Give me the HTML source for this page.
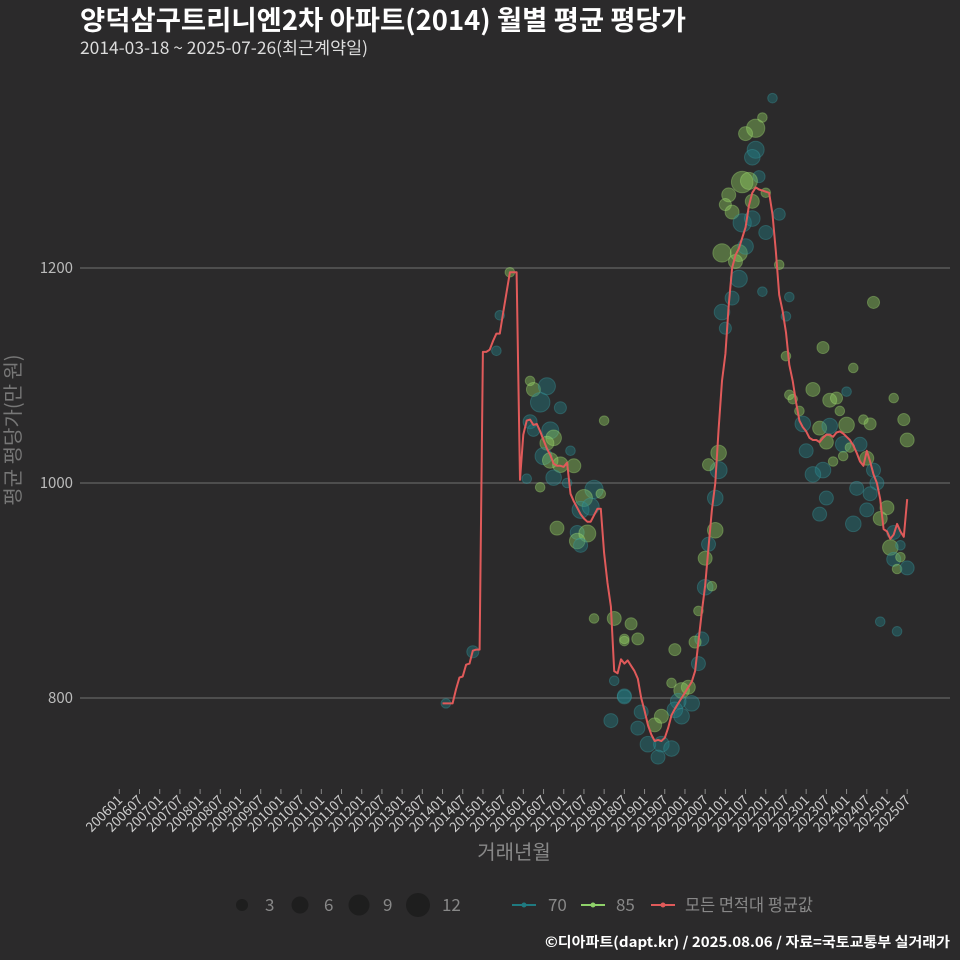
<!DOCTYPE html>
<html><head><meta charset="utf-8">
<style>
html,body{margin:0;padding:0;background:#2b2a2b;}
svg{display:block;font-family:"Noto Sans CJK KR","Liberation Sans",sans-serif;}
</style></head>
<body>
<svg id="chart" width="960" height="960" viewBox="0 0 960 960">
<rect x="0" y="0" width="960" height="960" fill="#2b2a2b"/>
<text x="80" y="30" font-size="27" font-weight="bold" fill="#ffffff" textLength="606" lengthAdjust="spacingAndGlyphs">양덕삼구트리니엔2차 아파트(2014) 월별 평균 평당가</text>
<text x="80" y="54" font-size="17" fill="#dddddd" textLength="288" lengthAdjust="spacingAndGlyphs">2014-03-18 ~ 2025-07-26(최근계약일)</text>
<g id="grid"></g>
<g id="yaxis"></g>
<g id="xaxis"></g>
<g id="points"></g>
<g id="line"></g>
<text transform="translate(20,430) rotate(-90)" text-anchor="middle" font-size="20" fill="#777777">평균 평당가(만 원)</text>
<text x="514" y="859" text-anchor="middle" font-size="20" fill="#888888">거래년월</text>
<g>
<circle cx="242" cy="905" r="6" fill="#1e1e1e"/>
<text x="265" y="911" font-size="17" fill="#888">3</text>
<circle cx="300" cy="905" r="8.5" fill="#1e1e1e"/>
<text x="324" y="911" font-size="17" fill="#888">6</text>
<circle cx="359" cy="905" r="10.5" fill="#1e1e1e"/>
<text x="383" y="911" font-size="17" fill="#888">9</text>
<circle cx="418" cy="905" r="12" fill="#1e1e1e"/>
<text x="442" y="911" font-size="17" fill="#888">12</text>
</g>
<g>
<line x1="512" y1="905" x2="536" y2="905" stroke="#1f7a80" stroke-width="2"/>
<circle cx="524" cy="905" r="2.5" fill="#1f7a80"/>
<text x="548" y="911" font-size="17" fill="#888">70</text>
<line x1="581" y1="905" x2="605" y2="905" stroke="#8fd16a" stroke-width="2"/>
<circle cx="593" cy="905" r="2.5" fill="#8fd16a"/>
<text x="616" y="911" font-size="17" fill="#888">85</text>
<line x1="651" y1="905" x2="675" y2="905" stroke="#e05a5a" stroke-width="2"/>
<circle cx="663" cy="905" r="2.5" fill="#e05a5a"/>
<text x="685" y="911" font-size="17" fill="#888" textLength="128" lengthAdjust="spacingAndGlyphs">모든 면적대 평균값</text>
</g>
<text x="950" y="947" text-anchor="end" font-size="14" font-weight="bold" fill="#ffffff" textLength="405" lengthAdjust="spacingAndGlyphs">©디아파트(dapt.kr) / 2025.08.06 / 자료=국토교통부 실거래가</text>
</svg>
<script>
const yTicks = [800, 1000, 1200];
const lineStart = "201401";
const lineValues = [795,795,795,795,808,819,820,831,832,844,845,845,
1122,1122,1124,1132,1139,1139,1158,1177,1196,1196,1196,1003,
1045,1058,1059,1054,1055,1048,1040,1032,1026,1018,1016,1016,
1015,1019,990,983,977,971,967,964,964,970,976,976,
935,907,885,825,823,836,832,835,830,825,818,800,
788,775,766,760,761,760,763,772,784,790,795,800,
805,810,815,825,852,880,905,940,975,1000,1050,1095,
1120,1165,1200,1212,1218,1228,1238,1258,1270,1275,1273,1272,
1271,1270,1250,1215,1175,1160,1140,1110,1095,1075,1058,1052,
1048,1042,1040,1040,1038,1042,1045,1045,1043,1047,1048,1046,
1043,1040,1035,1028,1020,1016,1030,1020,1008,1000,985,957,
955,948,952,962,955,950,985];
const ptMonth = ["201402","201410","201506","201505","201509","201603","201604","201608","201606","201612","201801","201603","201604","201609","201610","201608","201607","201609","201612","201704","201703","201602","201610","201702","201606","201710","201707","201712","201706","201709","201611","201705","201708","201705","201706","201710","201804","201807","201804","201807","201803",
"202203","202112","202110","202107","202110","202109","202111","202106","202108","202201","202102","202101","202103","202109","202106","202109","202205","202201","202012","202105","202107","202104","202105","202205","202112","202208","202103","202012","202101","202207",
"202409","202306","202403","202207","202303","202208","202209","202308","202310","202401","202503","202311","202211","202406","202408","202506","202507","202212","202305","202308","202401","202307","202312","202405","202301","202309","202312","202402","202407","202306","202303","202409","202410","202404","202408","202307","202407","202305","202501","202411","202403","202503","202502","202505","202503","202505","202504","202507","202411","202504",
"202011","202011","202008","202010","202010","202008","202007","202007","202009","202005","202006","202004","202005","201910","201809","201811","201807","201909","201912","202002","202003","201911","201910","201912","201906","201904","201812","201807","201811","201902","201906","201909","201905"];
const ptValue = [795,843,1156,1123,1196,1095,1087,1090,1075,1070,1058,1057,1049,1049,1042,1037,1025,1021,1017,1016,1030,1004,1005,1000,996,994,986,990,975,978,958,954,953,946,942,874,874,855,816,802,779,
1358,1340,1330,1325,1310,1303,1285,1280,1281,1270,1268,1259,1252,1262,1242,1246,1250,1233,1214,1214,1220,1206,1190,1203,1178,1173,1172,1159,1144,1155,
1168,1126,1107,1118,1087,1082,1078,1077,1079,1085,1079,1067,1067,1059,1055,1059,1040,1055,1051,1053,1054,1038,1036,1036,1030,1020,1025,1033,1023,1012,1008,1012,1000,995,990,986,975,971,977,967,962,954,940,942,929,931,920,921,871,862,
1028,1012,1017,986,956,943,930,903,904,881,855,852,832,845,869,855,853,814,807,810,795,797,789,783,783,775,787,801,772,757,757,753,745];
const ptSize = [1,2,1,1,1,1,3,5,7,2,1,3,2,5,4,3,5,4,4,3,1,1,4,1,1,6,5,1,5,5,3,3,5,4,3,1,3,1,1,3,3,
1,1,6,3,5,4,2,9,5,1,3,2,3,3,6,4,2,3,6,5,4,3,5,1,1,1,3,4,2,1,
2,2,1,1,3,1,1,3,2,1,1,1,1,1,2,2,3,4,3,4,4,3,4,3,3,1,1,1,3,4,4,3,3,3,3,3,3,3,3,3,4,3,4,1,3,1,1,3,1,1,
4,5,2,4,4,3,3,4,1,1,3,2,3,2,2,2,1,1,4,3,4,4,4,4,3,3,3,3,3,4,4,4,3];
const ptType = ["70","70","70","70","85","85","85","70","70","70","85","70","70","70","85","85","70","85","85","85","70","70","70","70","85","70","85","85","70","70","85","70","85","85","70","85","85","85","70","70","70",
"70","85","85","85","70","70","70","85","85","85","85","85","85","85","70","70","70","70","85","85","70","85","70","85","70","70","70","70","70","70",
"85","85","85","85","85","85","85","85","85","70","85","85","85","85","85","85","85","70","85","70","85","85","70","70","70","85","85","85","85","70","70","70","70","70","70","70","70","70","85","85","70","70","85","70","70","85","85","70","70","70",
"85","70","85","70","85","70","85","70","85","85","70","85","70","85","85","85","85","85","85","85","70","70","70","70","85","85","70","70","70","70","70","70","70"];

const NS = "http://www.w3.org/2000/svg";
function monthIndex(s){ return (parseInt(s.slice(0,4))-2006)*12 + parseInt(s.slice(4,6))-1; }
function xScale(s){ return 119.3 + monthIndex(s)*3.367; }
function xIdx(m){ return 119.3 + m*3.367; }
function yScale(v){ return 268 + (1200 - v)*1.075; }
function mk(tag, attrs, parent){ const e=document.createElementNS(NS,tag); for(const k in attrs) e.setAttribute(k,attrs[k]); parent.appendChild(e); return e; }

const grid=document.getElementById('grid'), yax=document.getElementById('yaxis'), xax=document.getElementById('xaxis');
yTicks.forEach(v=>{
  const g=mk('line',{x1:80,x2:950,y1:yScale(v),y2:yScale(v),stroke:'#5a5a5a','stroke-width':1.5},grid);
  
  
  const t=mk('text',{x:73,y:yScale(v)+5,'text-anchor':'end','font-size':15,fill:'#bbbbbb'},yax);
  t.textContent=v;
  
  
});
const xLabels=[];
for(let y=2006;y<=2025;y++){ xLabels.push(y+'01'); xLabels.push(y+'07'); }
xLabels.forEach(l=>{
  const x=xScale(l);
  const tk=mk('line',{x1:x,x2:x,y1:789,y2:794,stroke:'#888','stroke-width':1},xax);
  
  
  const t=mk('text',{x:x+4,y:801,'text-anchor':'end','font-size':13.5,fill:'#cccccc',transform:'rotate(-45 '+(x+4)+' 801)'},xax);
  t.textContent=l;
  
  
});

const pg=document.getElementById('points');
ptMonth.forEach((m,i)=>{
  const is70=ptType[i]==='70';
  const c=mk('circle',{cx:xScale(m),cy:yScale(ptValue[i]),r:(1.8+3.0*Math.sqrt(ptSize[i])).toFixed(2),
    fill:is70?'rgba(34,130,138,0.4)':'rgba(150,215,100,0.4)',
    stroke:is70?'rgba(60,160,165,0.35)':'rgba(170,230,120,0.35)','stroke-width':1},pg);
  
  
});

const start=monthIndex(lineStart);
const d=lineValues.map((v,i)=>(i?'L':'M')+xIdx(start+i).toFixed(1)+' '+yScale(v).toFixed(1)).join(' ');
const p=mk('path',{d:d,fill:'none',stroke:'#e05a5a','stroke-width':2,'stroke-linejoin':'round'},document.getElementById('line'));


</script>
</body></html>
